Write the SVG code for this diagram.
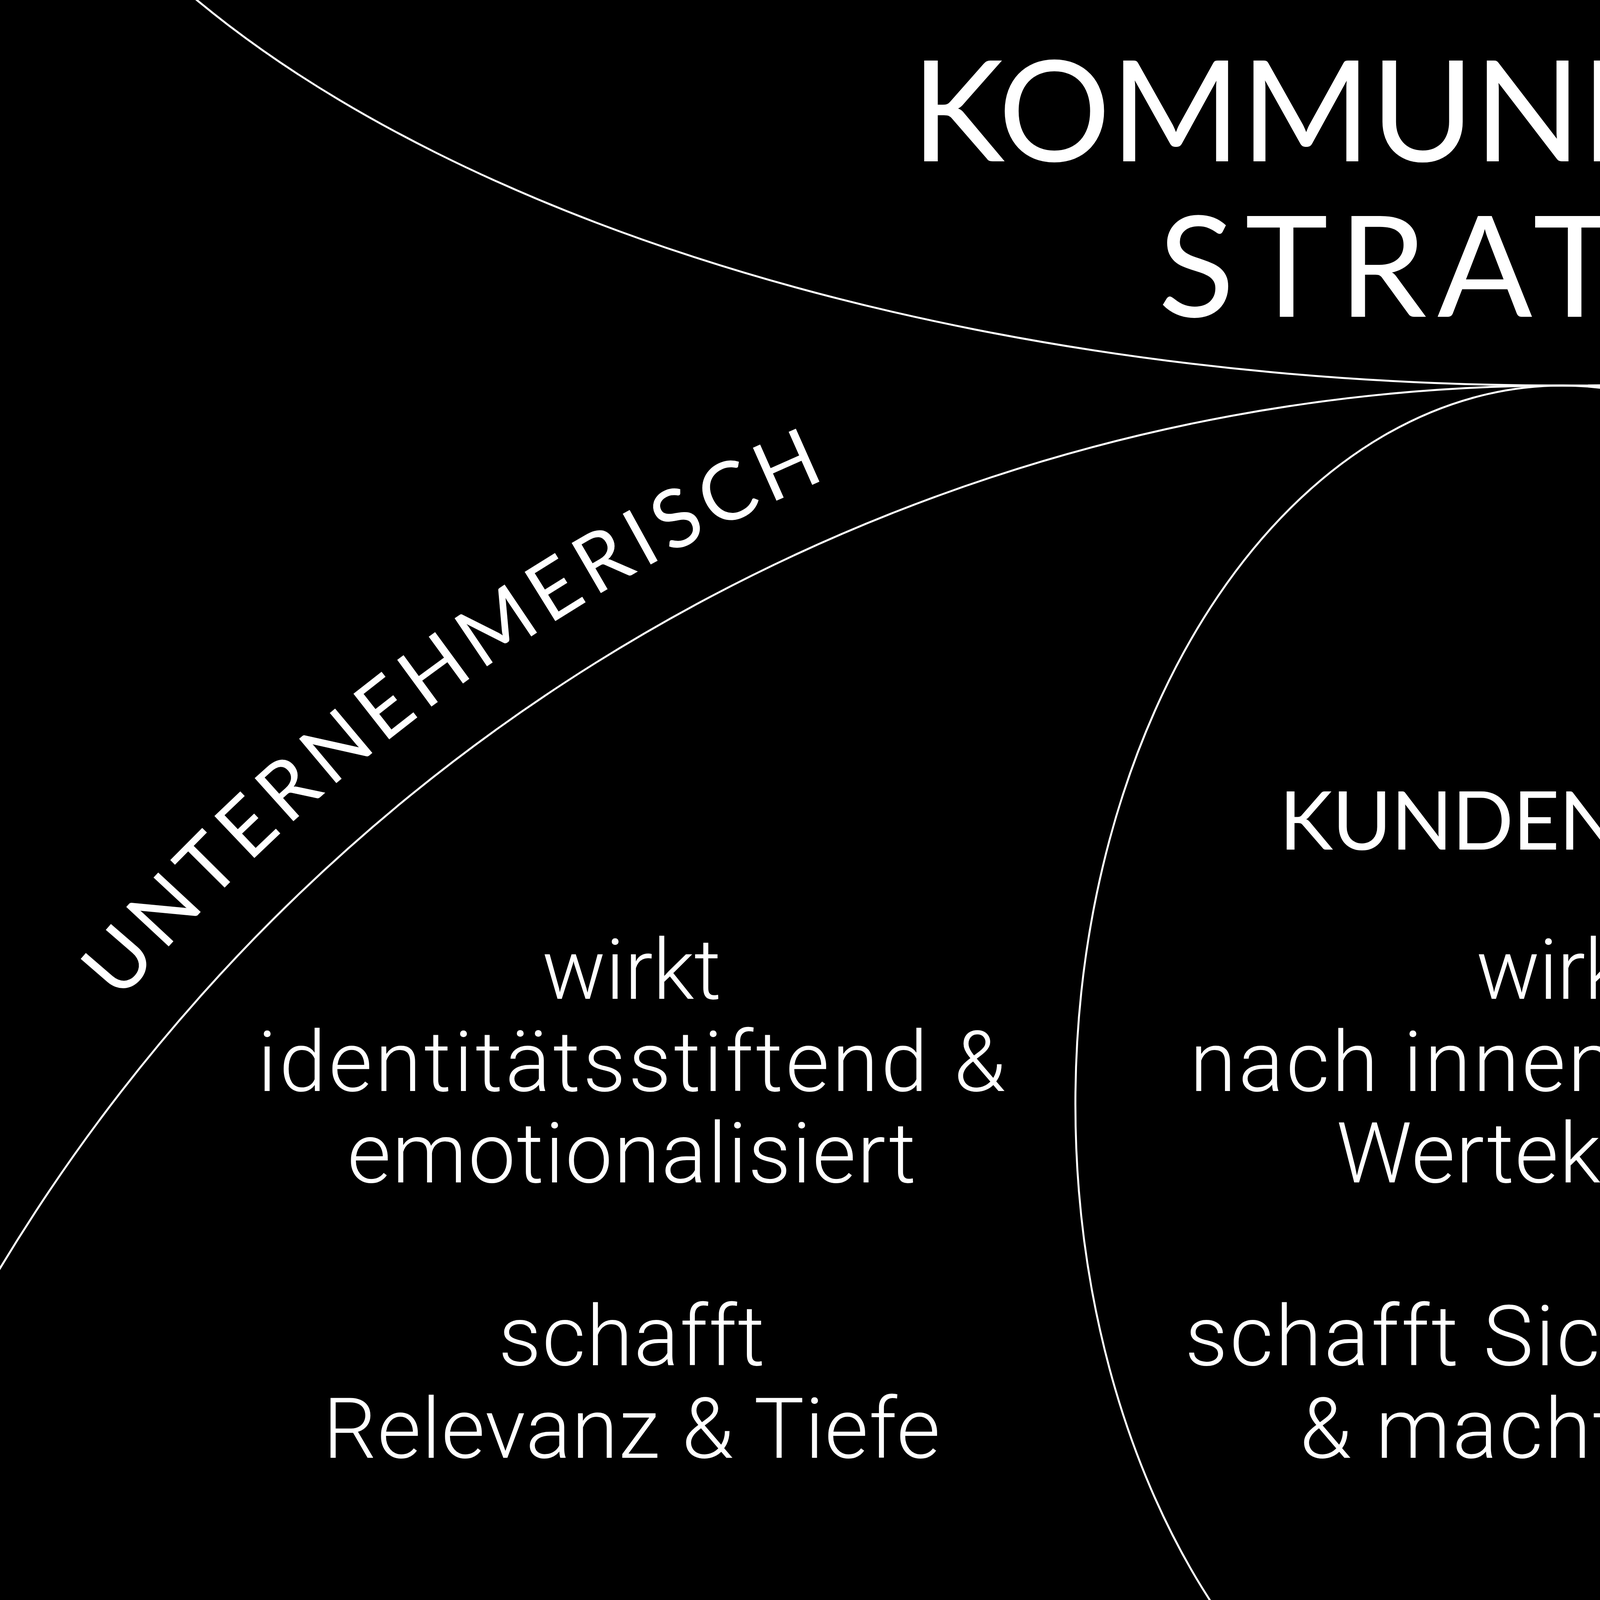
<svg xmlns="http://www.w3.org/2000/svg" width="8000" height="4500" viewBox="0 0 8000 4500">
  <style>
    .line { fill: none; stroke: #ffffff; stroke-width: 5; }
    .title { font-family: Lato, "Liberation Sans", sans-serif; font-weight: 400; fill: #ffffff; text-anchor: middle; }
    .head { font-family: Lato, "Liberation Sans", sans-serif; font-weight: 400; font-size: 207px; fill: #ffffff; }
    .body { font-family: Roboto, "Liberation Sans", sans-serif; font-weight: 300; font-size: 216px; fill: #ffffff; text-anchor: middle; }
  </style>
  <defs>
    <path id="arcLeft" d="M -18 3003 A 4815 4815 0 0 1 2629 1041"/>
    <path id="arcRight" d="M 5205 1031 A 4780 4780 0 0 1 7896 2888"/>
  </defs>
  <rect x="0" y="0" width="8000" height="4500" fill="#000000"/>

  <g id="connectors">
    <ellipse class="line" cx="4000" cy="-1050" rx="4080" ry="2037"/>
    <circle class="line" cx="4000" cy="5657" r="4670"/>
    <ellipse class="line" cx="4000" cy="2827" rx="1247" ry="1840"/>
  </g>

  <g id="title">
    <text class="title" x="4002" y="413" font-size="360" textLength="3338" lengthAdjust="spacing">KOMMUNIKATIONS</text>
    <text class="title" x="3992" y="811" font-size="360" textLength="2054" lengthAdjust="spacing">STRATEGIE</text>
  </g>

  <g id="unternehmerisch">
    <text class="head"><textPath href="#arcLeft" startOffset="50%" text-anchor="middle" textLength="2270" lengthAdjust="spacing">UNTERNEHMERISCH</textPath></text>
    <text class="body" x="1617" y="2557" textLength="459">wirkt</text>
    <text class="body" x="1617" y="2793" textLength="1915">identitätsstiftend &amp;</text>
    <text class="body" x="1617" y="3027" textLength="1456">emotionalisiert</text>
    <text class="body" x="1617" y="3495" textLength="682">schafft</text>
    <text class="body" x="1617" y="3732" textLength="1580">Relevanz &amp; Tiefe</text>
  </g>

  <g id="kundensicht">
    <text class="head" x="4002" y="2175" text-anchor="middle" textLength="1454" lengthAdjust="spacing">KUNDENSICHT</text>
    <text class="body" x="4004" y="2557" textLength="450">wirkt</text>
    <text class="body" x="4006" y="2793" textLength="1920">nach innen &amp; stärkt</text>
    <text class="body" x="4000" y="3027" textLength="1158">Wertekanon</text>
    <text class="body" x="4004" y="3495" textLength="1941">schafft Sichtbarkeit</text>
    <text class="body" x="4003" y="3732" textLength="1352">&amp; macht stolz</text>
  </g>

  <g id="produktsicht">
    <text class="head"><textPath href="#arcRight" startOffset="50%" text-anchor="middle" textLength="1730" lengthAdjust="spacing">PRODUKTSICHT</textPath></text>
    <text class="body" x="6406" y="2557" textLength="996">Aufladung</text>
    <text class="body" x="6407" y="2793" textLength="1936">über Produktnutzen</text>
    <text class="body" x="6409" y="3027" textLength="639">hinaus</text>
    <text class="body" x="6403" y="3495" textLength="1582">Abgrenzung von</text>
    <text class="body" x="6403" y="3732" textLength="2224">der restlichen Branche</text>
  </g>
</svg>
